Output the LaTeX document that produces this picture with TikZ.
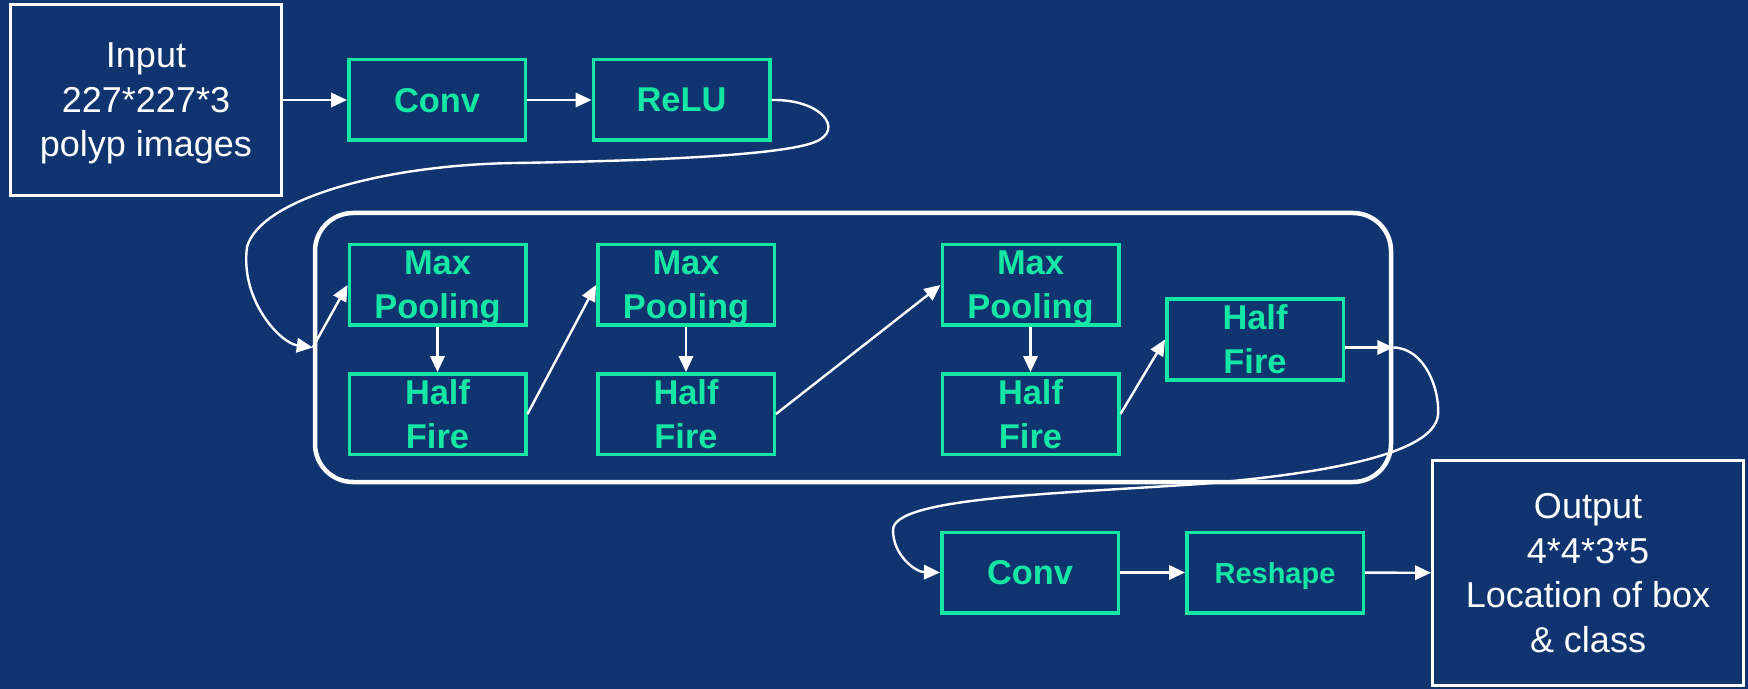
\documentclass[tikz,border=0pt]{standalone}
\usepackage{fontspec}
\setmainfont{Liberation Sans}
\usetikzlibrary{arrows.meta}
\definecolor{navy}{RGB}{16,52,112}
\definecolor{mint}{RGB}{20,230,164}
\begin{document}
\begin{tikzpicture}[x=0.5pt,y=-0.5pt,
  layer/.style={draw=mint, line width=1.75pt, minimum width=88.25pt, minimum height=40.25pt,
    inner sep=0pt, align=center, text=mint, text depth=0pt,
    font=\fontsize{17.2pt}{22pt}\selectfont\bfseries},
  iobox/.style={draw=white, line width=1.5pt, inner sep=0pt, align=center, text=white,
    text depth=0pt, font=\fontsize{18pt}{22.25pt}\selectfont},
  group/.style={draw=white, line width=2.25pt, rounded corners=19pt,
    minimum width=538pt, minimum height=134.5pt, inner sep=0pt},
  arr/.style={draw=white, line width=1.2pt, -{Triangle[length=8pt,width=7.2pt]}}
]
% canvas
\path[use as bounding box] (0,0) rectangle (1748,689);
\clip (0,0) rectangle (1748,689);
\fill[navy] (0,0) rectangle (1748,689);

% input and first stage
\node[iobox, minimum width=135.5pt, minimum height=95.5pt] (in) at (146,100)
  {Input\\227*227*3\\polyp images};
\node[layer] (conv1) at (437,100) {Conv};
\node[layer] (relu) at (681.5,100) {ReLU};

% fire block
\node[group] (grp) at (853,347.5) {};
\node[layer] (mp1) at (437.5,285) {Max\\Pooling};
\node[layer] (hf1) at (437.5,414) {Half\\Fire};
\node[layer] (mp2) at (686,285) {Max\\Pooling};
\node[layer] (hf2) at (686,414) {Half\\Fire};
\node[layer] (mp3) at (1030.5,285) {Max\\Pooling};
\node[layer] (hf3) at (1030.5,414) {Half\\Fire};
\node[layer] (hf4) at (1255,339.5) {Half\\Fire};

% output stage
\node[layer] (conv2) at (1030,572.5) {Conv};
\node[layer, font=\fontsize{14.5pt}{18pt}\selectfont\bfseries] (resh) at (1275,572.5) {Reshape};
\node[iobox, minimum width=155.5pt, minimum height=112.5pt] (out) at (1588,573)
  {Output\\4*4*3*5\\Location of box\\\& class};

% connectors
\draw[arr] (in) -- (conv1);
\draw[arr] (conv1) -- (relu);
\draw[arr] (relu.east) .. controls (822,99) and (845,130) .. (815,142)
  .. controls (780,156) and (640,161) .. (515,163)
  .. controls (380,165) and (260,200) .. (247,247)
  .. controls (240,300) and (280,343) .. (grp.west);
\draw[arr] (grp.west) -- (mp1.west);
\draw[arr] (mp1) -- (hf1);
\draw[arr] (hf1.east) -- (mp2.west);
\draw[arr] (mp2) -- (hf2);
\draw[arr] (hf2.east) -- (mp3.west);
\draw[arr] (mp3) -- (hf3);
\draw[arr] (hf3.east) -- (hf4.west);
\draw[arr] (hf4.east |- grp.east) -- (grp.east);
\draw[arr] (grp.east) .. controls (1425,348) and (1440,390) .. (1438,415)
  .. controls (1434,455) and (1320,474) .. (1200,484)
  .. controls (1050,494) and (893,498) .. (893,530)
  .. controls (893,555) and (915,572) .. (conv2.west);
\draw[arr] (conv2) -- (resh);
\draw[arr] (resh) -- (out);
\end{tikzpicture}
\end{document}
